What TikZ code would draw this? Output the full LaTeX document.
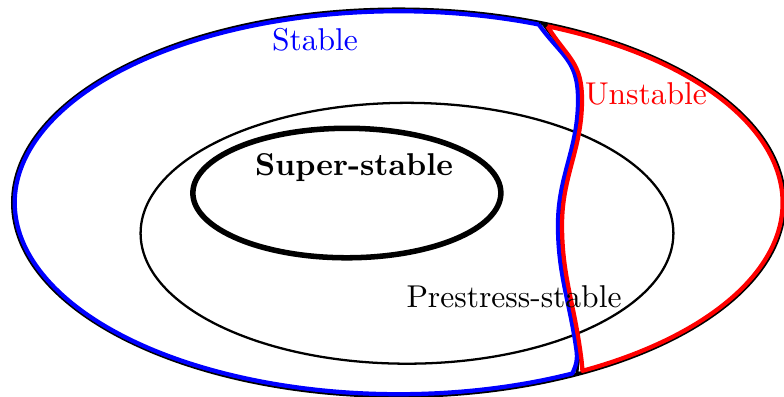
\documentclass[tikz,border=0pt]{standalone}
\usepackage{xcolor}
\usepackage{tikz}
\definecolor{stableblue}{RGB}{0,0,255}
\definecolor{unstablered}{RGB}{255,0,0}
\tikzset{
	outerset/.style={
		draw=black,
		line width=1.2pt
	},
	region/.style={
		line width=1.3pt,
		line join=round
	},
	lbl/.style={
		inner sep=1pt,
		font=\fontsize{9.7}{12}\selectfont
	}
}

\begin{document}
\begin{tikzpicture}[prestress/.style={draw,line width=0.7pt},
			super/.style={draw,line width=1.7pt}]
		\useasboundingbox (0,0) rectangle (8.476,4.292);
		\coordinate (c) at (4.31,2.10);

		% sets
		\draw[outerset] (c) ellipse[x radius=4.17,y radius=2.09];
		\draw[prestress] (4.40,1.77) ellipse[x radius=2.88,y radius=1.41];
		\draw[super] (3.75,2.205) ellipse[x radius=1.665,y radius=0.70];

		% dividing curve
		\coordinate (d1) at (6.27,3.211);
		\coordinate (d2) at (6.054,1.859);
		\coordinate (d3) at (6.254,0.508);
		\coordinate (d4) at (6.240,0.251);
		\draw[line width=1pt] (c) ++(68:4.17 and 2.09) coordinate (d0)
			to[out=-55,in=90,looseness=1.2] (d1) to[out=-90,in=90] (d2)
			to[out=-90,in=98] (d3) to[out=-82,in=95] (d4);

		% stable region
		\coordinate (b1) at (6.249,3.211);
		\coordinate (b2) at (6.032,1.859);
		\coordinate (b3) at (6.232,0.508);
		\draw[region,stableblue] (c) ++(68.6:4.15 and 2.07) coordinate (b0)
			arc[start angle=68.6,end angle=296.9,x radius=4.15,y radius=2.07]
			to[out=65,in=-82] (b3) to[out=98,in=-90] (b2)
			to[out=90,in=-90] (b1) to[out=90,in=-54,looseness=1.2] (b0);

		% unstable region
		\coordinate (r1) at (6.292,3.211);
		\coordinate (r2) at (6.076,1.859);
		\coordinate (r3) at (6.272,0.508);
		\draw[region,unstablered] (c) ++(67.2:4.15 and 2.07) coordinate (r0)
			arc[start angle=67.2,end angle=-61.4,x radius=4.15,y radius=2.07]
			to[out=93,in=-82] (r3) to[out=98,in=-90] (r2)
			to[out=90,in=-90] (r1) to[out=90,in=-58,looseness=1.2] (r0);

		\node[lbl,text=stableblue] (stablelbl) at (3.405,3.859) {Stable};
		\node[lbl,text=unstablered] (unstablelbl) at (6.984,3.276) {Unstable};
		\node[lbl] (superlbl) at (3.827,2.476) {\textbf{Super-stable}};
		\node[lbl] (prestresslbl) at (5.557,1.081) {Prestress-stable};
	\end{tikzpicture}
\end{document}
